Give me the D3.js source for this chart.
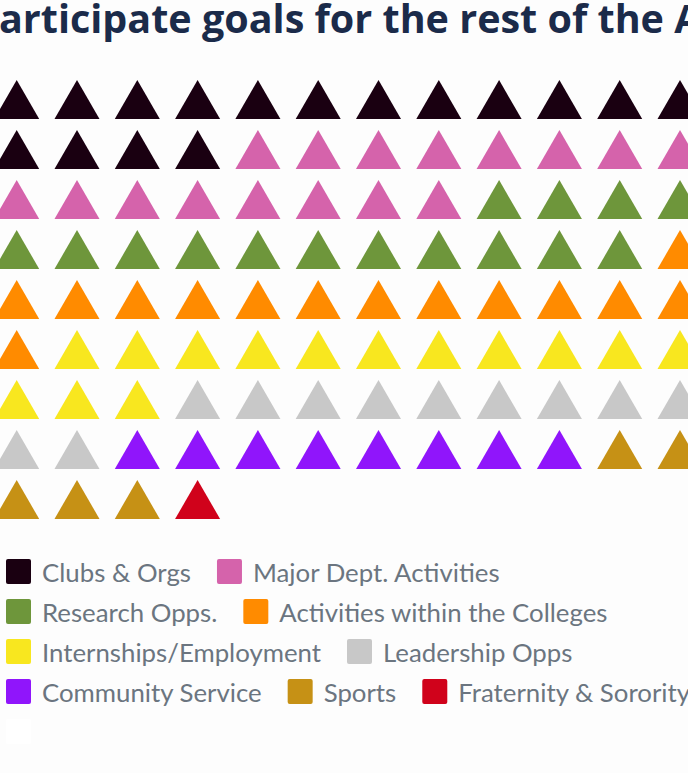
<!DOCTYPE html>
<html lang="en">
<head>
    <meta charset="UTF-8">
    <title>Waffle</title>
    <script src="https://cdn.jsdelivr.net/npm/d3@7/dist/d3.min.js"></script>
    <style>
        html, body { margin: 0; padding: 0; background: #fdfdfd; overflow: hidden; }
    </style>
</head>
<body>
    <script>

        // width and height
        var w = 688;
        var h = 773;

        // title (cut off on both sides in the source)
        var titleText = 'articipate goals for the rest of the AY';

        // categories and how many of the 100 units each takes
        var categories = ['Clubs & Orgs', 'Major Dept. Activities', 'Research Opps.',
            'Activities within the Colleges', 'Internships/Employment', 'Leadership Opps',
            'Community Service', 'Sports', 'Fraternity & Sorority', ''];
        var counts = [16, 16, 15, 14, 14, 11, 8, 5, 1, 0];
        var colors = ['#1a0011', '#d563ab', '#6e963b', '#ff8b00', '#f8e71f', '#c8c8c8',
            '#9015fb', '#c69115', '#d0021b', '#ffffff'];

        var cols = 12;

        // one unit per cell
        var units = [];
        counts.forEach(function(c, k) {
            for (var i = 0; i < c; i++) {
                units.push(k);
            }
        });
        var rows = Math.ceil(units.length / cols);

        var color = d3.scaleOrdinal().domain(d3.range(categories.length)).range(colors);
        var x = d3.scaleLinear().domain([0, cols - 1]).range([16.7, 680]);
        var y = d3.scaleLinear().domain([0, rows - 1]).range([106, 506]);

        var svg = d3.select('body')
                    .append('svg')
                    .attr('width', w)
                    .attr('height', h);

        svg.append('text')
            .text(titleText)
            .attr('x', -1)
            .attr('y', 33)
            .attr('font-family', 'Open Sans, sans-serif')
            .attr('font-weight', 'bold')
            .attr('font-size', '39.5px')
            .attr('fill', '#1b2b4a');

        var tri = d3.symbol().type(d3.symbolTriangle).size(878);

        svg.selectAll('path.unit')
            .data(units)
            .enter()
            .append('path')
            .attr('class', 'unit')
            .attr('d', tri)
            .attr('transform', function(d, i) {
                return 'translate(' + x(i % cols) + ',' + y(Math.floor(i / cols)) + ')';
            })
            .attr('fill', function(d) { return color(d); });

        // legend, items flow left to right and wrap
        var legend = svg.append('g');
        var maxW = 708;
        var lx = 6, ly = 559;
        categories.forEach(function(name, k) {
            var g = legend.append('g');
            var t = g.append('text')
                .text(name)
                .attr('x', 36)
                .attr('y', 23)
                .attr('font-family', 'Lato, sans-serif')
                .attr('font-size', '25.8px')
                .attr('fill', '#6b7580');
            var tw = name ? t.node().getComputedTextLength() : 0;
            var itemW = 36 + tw;
            if (lx + itemW > maxW && lx > 6) {
                lx = 6;
                ly += 40;
            }
            g.attr('transform', 'translate(' + lx + ',' + ly + ')');
            g.insert('rect', 'text')
                .attr('width', 25)
                .attr('height', 25)
                .attr('rx', 2)
                .attr('fill', color(k));
            lx += itemW + 26;
        });

    </script>
</body>
</html>
